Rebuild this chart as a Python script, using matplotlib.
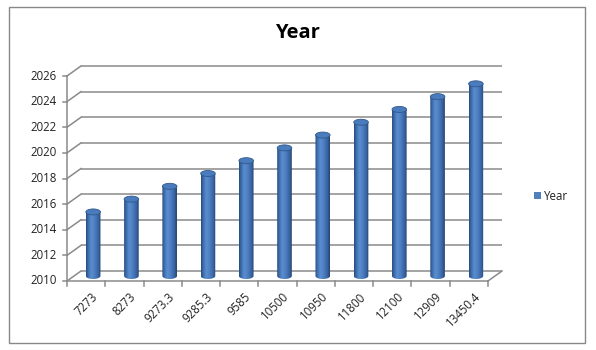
import matplotlib
matplotlib.use("Agg")
import matplotlib.pyplot as plt
import numpy as np
from matplotlib.patches import Rectangle, Ellipse, Polygon
from matplotlib.colors import LinearSegmentedColormap

categories = ["7273", "8273", "9273.3", "9285.3", "9585", "10500",
              "10950", "11800", "12100", "12909", "13450.4"]
values = [2015, 2016, 2017, 2018, 2019, 2020, 2021, 2022, 2023, 2024, 2025]
series_name = "Year"
y_ticks = [2010, 2012, 2014, 2016, 2018, 2020, 2022, 2024, 2026]

W, H = 596, 350
fig = plt.figure(figsize=(W / 100, H / 100), dpi=100)
plt.rcParams['font.family'] = ['Open Sans', 'DejaVu Sans']

# front plane in pixels
x0p, x1p = 67, 488
y0p, y1p = 281, 76
ax = fig.add_axes([x0p / W, 1 - y0p / H, (x1p - x0p) / W, (y0p - y1p) / H])
n = len(categories)
ymin, ymax = y_ticks[0], y_ticks[-1]
ax.set_xlim(0, n)
ax.set_ylim(ymin, ymax)
ax.axis('off')

px_x = (x1p - x0p) / n
px_y = (y0p - y1p) / (ymax - ymin)
dx = 14 / px_x      # depth offset in category units
dy = 10 / px_y      # depth offset in value units

grid_c = '#8a8a8a'
lw = 1.1
fs = 8.3

# back wall gridlines and left wall diagonals
for t in y_ticks:
    ax.plot([dx, n + dx], [t + dy, t + dy], color=grid_c, lw=lw, clip_on=False, solid_capstyle='butt')
    ax.plot([0, dx], [t, t + dy], color=grid_c, lw=lw, clip_on=False)
    ax.plot([-4 / px_x, 0], [t, t], color=grid_c, lw=lw, clip_on=False)
    ax.text(-10 / px_x, t, str(t), ha='right', va='center', fontsize=fs, color='#222222')

# front vertical axis
ax.plot([0, 0], [ymin, ymax], color=grid_c, lw=lw, clip_on=False)
# floor
ax.plot([0, n], [ymin, ymin], color=grid_c, lw=lw, clip_on=False)
ax.plot([n, n + dx], [ymin, ymin + dy], color=grid_c, lw=lw, clip_on=False)
for k in range(n + 1):
    ax.plot([k, k], [ymin, ymin - 5 / px_y], color=grid_c, lw=lw, clip_on=False)

# category labels
for i, c in enumerate(categories):
    ax.text(i + 0.5 + 5 / px_x, ymin - 9 / px_y, c, rotation=45, ha='right', va='top',
            fontsize=fs, color='#222222', rotation_mode='anchor')

# cylinders
cmap = LinearSegmentedColormap.from_list('cyl', [
    (0.0, '#264a7a'), (0.12, '#3a68a6'), (0.35, '#5a8ed0'),
    (0.55, '#4f82c4'), (0.85, '#3861a0'), (1.0, '#22436f')])
grad = np.linspace(0, 1, 64)[None, :]
hw = 7.3 / px_x
eh = 3.0 / px_y
for i, v in enumerate(values):
    xc = i + 0.5 + dx / 2
    yb = ymin + dy / 2
    yt = v + dy / 2
    im = ax.imshow(grad, cmap=cmap, extent=[xc - hw, xc + hw, yb - eh, yt],
                   aspect='auto', origin='lower', zorder=3, interpolation='bilinear')
    th = np.linspace(np.pi, 2 * np.pi, 30)
    bx = xc + hw * np.cos(th)
    by = yb + eh * np.sin(th)
    verts = list(zip(bx, by)) + [(xc + hw, yt), (xc - hw, yt), (bx[0], by[0])]
    clip = Polygon(verts, closed=True, transform=ax.transData, facecolor='none', edgecolor='none')
    ax.add_patch(clip)
    im.set_clip_path(clip)
    top = Ellipse((xc, yt), 2 * hw, 2 * eh, facecolor='#4a7bbd', edgecolor='#31598c',
                  lw=0.6, zorder=4)
    ax.add_patch(top)

# title
fig.text(297 / W, 1 - 33 / H, 'Year', ha='center', va='center', fontsize=14.5,
         fontweight='bold', color='black')

# legend
lx, ly = 534, 196
fig.patches.append(Rectangle((lx / W, 1 - (ly + 3.5) / H), 7 / W, 7 / H,
                             transform=fig.transFigure, facecolor='#4f81bd', edgecolor='none'))
fig.text((lx + 10) / W, 1 - ly / H, series_name, ha='left', va='center', fontsize=fs,
         color='#222222')

# chart border
fig.patches.append(Rectangle((9 / W, 1 - 343 / H), (585 - 9) / W, (343 - 7) / H,
                             transform=fig.transFigure, facecolor='none',
                             edgecolor='#888888', lw=1.0))

fig.savefig('out.png', dpi=100)
